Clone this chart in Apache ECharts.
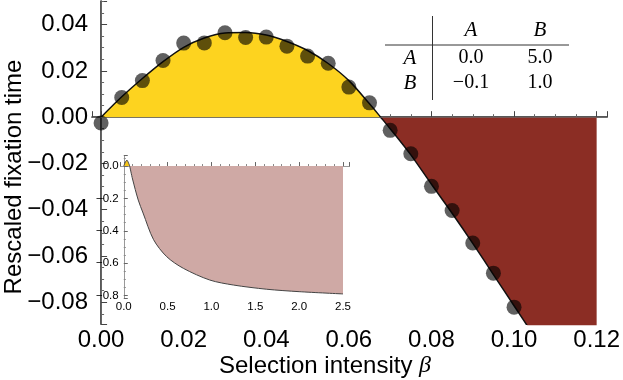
<!DOCTYPE html>
<html>
<head>
<meta charset="utf-8">
<script src="https://cdn.jsdelivr.net/npm/echarts@6/dist/echarts.min.js"></script>
<style>
  html, body { margin: 0; background: #fff; }
  #chart { width: 623px; height: 380px; }
</style>
</head>
<body>
<div id="chart"></div>
<script>
// theory curve (main panel)
const curveX = [0, 0.005, 0.01, 0.015, 0.02, 0.025, 0.03, 0.035, 0.04, 0.045, 0.05, 0.055, 0.06, 0.065, 0.0677,
  0.07, 0.075, 0.08, 0.085, 0.09, 0.095, 0.1, 0.105, 0.11, 0.115, 0.12]
const curveY = [0, 0.0088, 0.0167, 0.024, 0.0302, 0.0342, 0.0364, 0.0366, 0.0355, 0.0327, 0.0288, 0.0232, 0.0158, 0.0058, 0,
  -0.005, -0.0163, -0.029, -0.0415, -0.0545, -0.068, -0.0815, -0.095, -0.109, -0.123, -0.137]

// simulation points
const dotX = [0, 0.005, 0.01, 0.015, 0.02, 0.025, 0.03, 0.035, 0.04, 0.045, 0.05,
  0.055, 0.06, 0.065, 0.07, 0.075, 0.08, 0.085, 0.09, 0.095, 0.1]
const dotY = [-0.0025, 0.0085, 0.0158, 0.0245, 0.032, 0.0321, 0.0365, 0.0344, 0.0346, 0.0307, 0.0264,
  0.0233, 0.013, 0.0062, -0.0057, -0.0158, -0.0299, -0.0403, -0.0544, -0.0674, -0.0821]

// inset curve over a wider beta range
const insetX = [0, 0.035, 0.0677, 0.1, 0.165, 0.22, 0.34, 0.49, 0.68, 0.98, 1.25, 1.63, 2.0, 2.5]
const insetY = [0, 0.037, 0, -0.08, -0.21, -0.29, -0.455, -0.56, -0.632, -0.704, -0.735, -0.761, -0.776, -0.79]

// payoff matrix shown in the table
const strategies = ['A', 'B']
const payoff = [[0.0, 5.0], [-0.1, 1.0]]

const zeroX = 0.0677

const pts = (xs, ys) => xs.map((x, i) => [x, ys[i]])
const fmt = d => v => (Math.abs(v) < 1e-9 ? 0 : v).toFixed(d).replace('-', '\u2212')

const curve = pts(curveX, curveY)
const inset = pts(insetX, insetY)

const chart = echarts.init(document.getElementById('chart'))

const tickFont = { fontFamily: 'Liberation Sans', color: '#000' }

// table graphics
const colX = [410, 471, 540]
const rowY = [30, 58, 83]
const tableEls = []
strategies.forEach((s, j) => {
  tableEls.push({ type: 'text', x: colX[j + 1], y: rowY[0],
    style: { text: s, font: 'italic 21px "Liberation Serif"', fill: '#000', align: 'center', verticalAlign: 'middle' } })
})
strategies.forEach((s, i) => {
  tableEls.push({ type: 'text', x: colX[0], y: rowY[i + 1],
    style: { text: s, font: 'italic 21px "Liberation Serif"', fill: '#000', align: 'center', verticalAlign: 'middle' } })
  payoff[i].forEach((v, j) => {
    tableEls.push({ type: 'text', x: colX[j + 1], y: rowY[i + 1],
      style: { text: fmt(1)(v), font: '20px "Liberation Serif"', fill: '#000', align: 'center', verticalAlign: 'middle' } })
  })
})
tableEls.push({ type: 'line', shape: { x1: 432.5, y1: 16, x2: 432.5, y2: 100 }, style: { stroke: '#333', lineWidth: 1 } })
tableEls.push({ type: 'line', shape: { x1: 385, y1: 45, x2: 569, y2: 45 }, style: { stroke: '#333', lineWidth: 1 } })

const option = {
  backgroundColor: '#fff',
  animation: false,
  grid: [
    { left: 92, right: 14.3, top: 1, bottom: 55.7 },
    { left: 120.7, right: 273.7, top: 155.7, bottom: 81.7, show: true, backgroundColor: '#fff', borderWidth: 0 }
  ],
  xAxis: [
    {
      type: 'value', gridIndex: 0, min: -0.0022, max: 0.1225, splitNumber: 6,
      axisLine: { lineStyle: { color: '#222', width: 1.5 } },
      axisTick: { inside: true, length: 6, lineStyle: { color: '#444' } },
      minorTick: { show: true, splitNumber: 4, length: 3, lineStyle: { color: '#666' } },
      axisLabel: { ...tickFont, fontSize: 24, margin: 4, showMinLabel: false, showMaxLabel: false, formatter: fmt(2) },
      splitLine: { show: false }
    },
    {
      type: 'value', gridIndex: 0, position: 'top', min: -0.0022, max: 0.1225,
      axisLine: { lineStyle: { color: '#666', width: 1 } },
      axisTick: { show: false }, axisLabel: { show: false }, splitLine: { show: false }
    },
    {
      type: 'value', gridIndex: 1, min: -0.035, max: 2.572, splitNumber: 5,
      axisLine: { lineStyle: { color: '#444', width: 1 } },
      axisTick: { inside: true, length: 4, lineStyle: { color: '#666' } },
      minorTick: { show: true, splitNumber: 5, length: 2, lineStyle: { color: '#888' } },
      axisLabel: { ...tickFont, fontSize: 11.5, margin: 3, showMinLabel: false, showMaxLabel: false, formatter: fmt(1) },
      splitLine: { show: false }
    },
    {
      type: 'value', gridIndex: 1, position: 'top', min: -0.035, max: 2.572,
      axisLine: { lineStyle: { color: '#999', width: 1 } },
      axisTick: { show: false }, axisLabel: { show: false }, splitLine: { show: false }
    }
  ],
  yAxis: [
    {
      type: 'value', gridIndex: 0, min: -0.0895, max: 0.0502, splitNumber: 7,
      axisLine: { lineStyle: { color: '#222', width: 1.5 } },
      axisTick: { inside: true, length: 6, lineStyle: { color: '#444' } },
      minorTick: { show: true, splitNumber: 4, length: 3, lineStyle: { color: '#666' } },
      axisLabel: { ...tickFont, fontSize: 24, margin: 4, showMinLabel: false, showMaxLabel: false, formatter: fmt(2) },
      splitLine: { show: false }
    },
    {
      type: 'value', gridIndex: 0, position: 'right', min: -0.0895, max: 0.0502,
      axisLine: { lineStyle: { color: '#666', width: 1 } },
      axisTick: { show: false }, axisLabel: { show: false }, splitLine: { show: false }
    },
    {
      type: 'value', gridIndex: 1, min: -0.817, max: 0.064, splitNumber: 4,
      axisLine: { lineStyle: { color: '#444', width: 1 } },
      axisTick: { inside: true, length: 4, lineStyle: { color: '#666' } },
      minorTick: { show: true, splitNumber: 4, length: 2, lineStyle: { color: '#888' } },
      axisLabel: { ...tickFont, fontSize: 11.5, margin: 2, showMinLabel: false, showMaxLabel: false, formatter: fmt(1) },
      splitLine: { show: false }
    },
    {
      type: 'value', gridIndex: 1, position: 'right', min: -0.817, max: 0.064,
      axisLine: { lineStyle: { color: '#999', width: 1 } },
      axisTick: { show: false }, axisLabel: { show: false }, splitLine: { show: false }
    }
  ],
  series: [
    // main panel fills
    {
      type: 'line', xAxisIndex: 0, yAxisIndex: 0, symbol: 'none', smooth: 0.3, z: 1,
      data: curve.filter(p => p[0] <= zeroX),
      lineStyle: { opacity: 0 }, areaStyle: { color: '#fdd31f', opacity: 1 }
    },
    {
      type: 'line', xAxisIndex: 0, yAxisIndex: 0, symbol: 'none', smooth: 0.3, z: 1,
      data: curve.filter(p => p[0] >= zeroX),
      lineStyle: { opacity: 0 }, areaStyle: { color: '#8b2d24', opacity: 1 },
      markLine: {
        silent: true, symbol: 'none', label: { show: false },
        lineStyle: { color: 'rgba(110,110,110,0.55)', width: 1, type: 'solid' },
        data: [[{ coord: [0, 0] }, { coord: [0.1225, 0] }]]
      }
    },
    {
      type: 'line', xAxisIndex: 0, yAxisIndex: 0, symbol: 'none', smooth: 0.3, z: 3,
      data: curve, lineStyle: { color: '#111', width: 1.5 }
    },
    {
      type: 'scatter', xAxisIndex: 0, yAxisIndex: 0, z: 4, symbolSize: 15,
      data: pts(dotX, dotY), itemStyle: { color: 'rgba(0,0,0,0.78)' }
    },
    // inset
    {
      type: 'line', xAxisIndex: 2, yAxisIndex: 2, symbol: 'none', smooth: 0.3, z: 5,
      data: inset.filter(p => p[0] <= zeroX),
      lineStyle: { color: '#555', width: 1 }, areaStyle: { color: '#f5c518', opacity: 1 }
    },
    {
      type: 'line', xAxisIndex: 2, yAxisIndex: 2, symbol: 'none', smooth: 0.3, z: 5,
      data: inset.filter(p => p[0] >= zeroX),
      lineStyle: { color: '#444', width: 1 }, areaStyle: { color: '#cfa9a5', opacity: 1 }
    }
  ],
  graphic: [
    {
      type: 'text', x: 14, y: 177, rotation: Math.PI / 2,
      style: { text: 'Rescaled fixation time', font: '24px "Liberation Sans"', fill: '#000', align: 'center', verticalAlign: 'middle' }
    },
    {
      type: 'text', x: 325, y: 366,
      style: {
        text: '{a|Selection intensity }{b|\u03b2}', align: 'center', verticalAlign: 'middle',
        rich: {
          a: { font: '24px "Liberation Sans"', fill: '#000' },
          b: { font: 'italic 24px "Liberation Serif"', fill: '#000' }
        }
      }
    },
    ...tableEls
  ]
}

chart.setOption(option)
</script>
</body>
</html>
